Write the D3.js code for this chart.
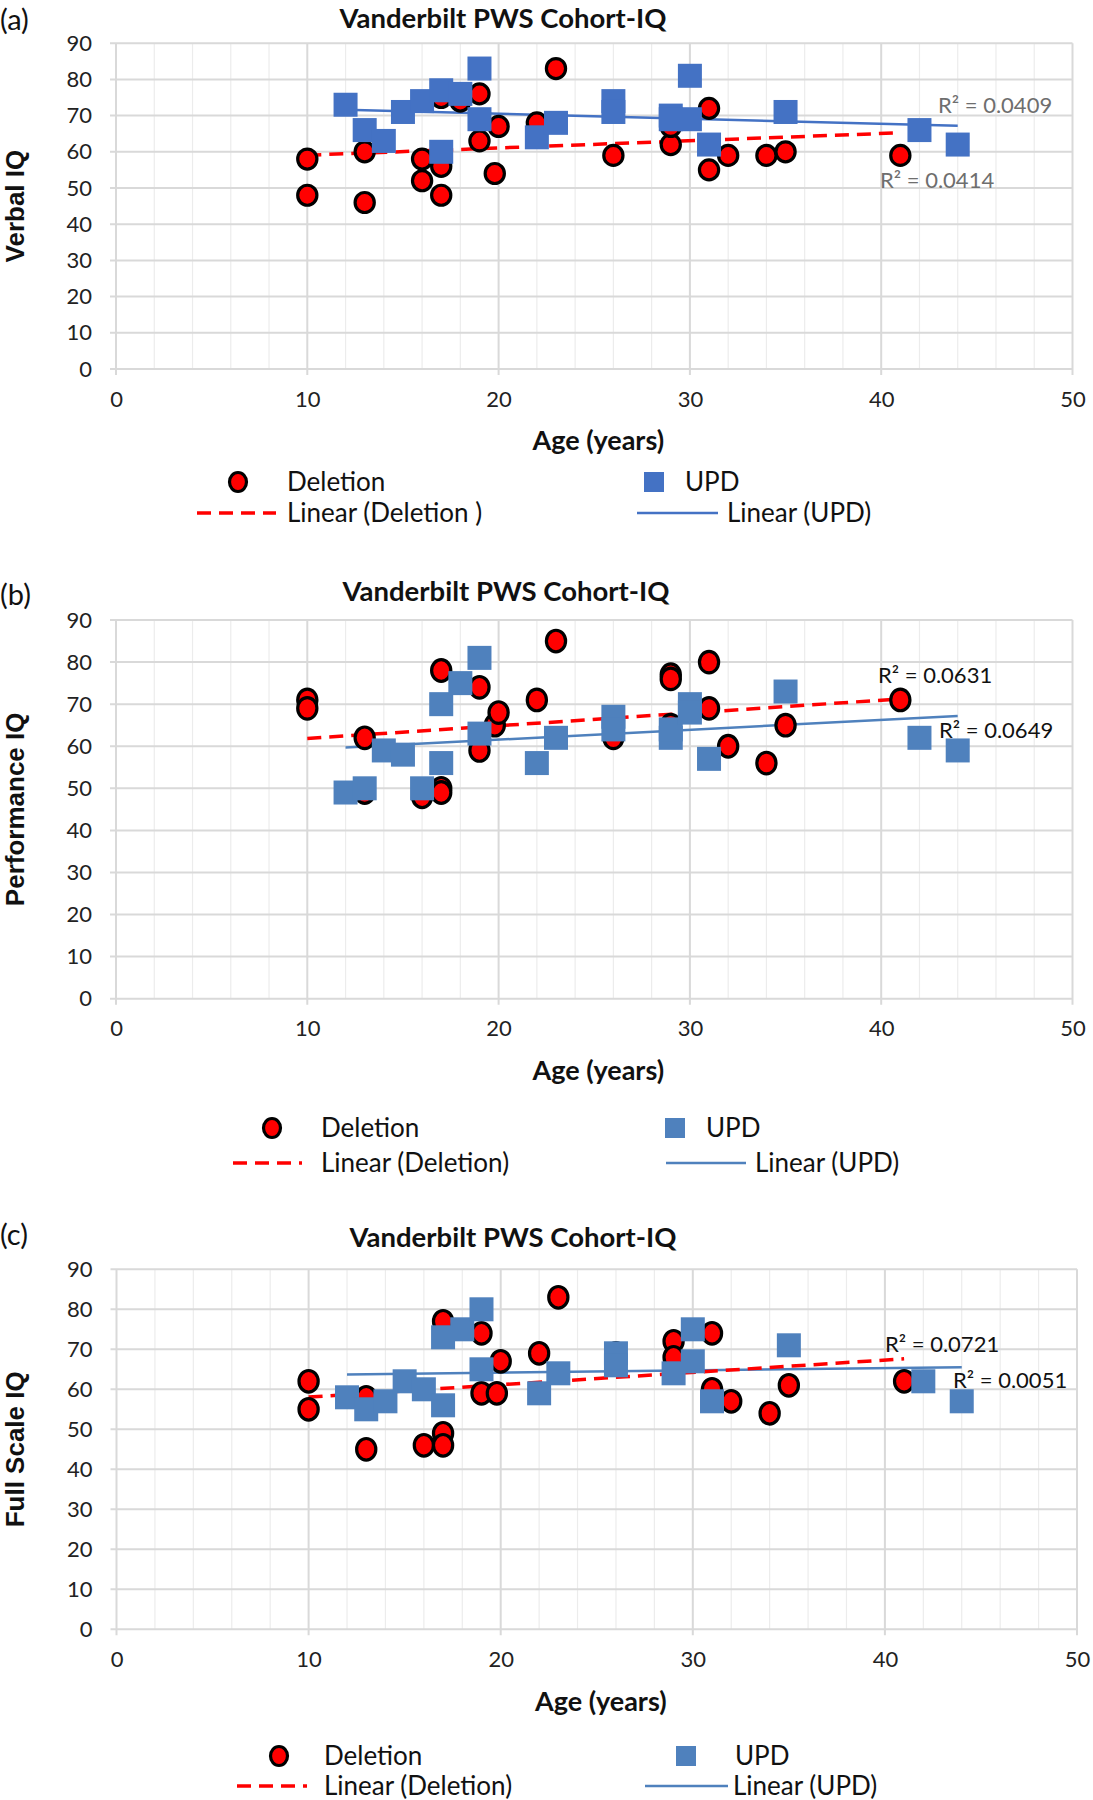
<!DOCTYPE html>
<html>
<head>
<meta charset="utf-8">
<script src="https://cdnjs.cloudflare.com/ajax/libs/d3/7.8.5/d3.min.js"></script>
<style>
  body { margin: 0; background: #fff; }
  svg { display: block; }
</style>
</head>
<body>
<script>
// values (age in years, IQ score)
var verbalDelAge = [10, 10, 13, 13, 16, 16, 17, 17, 17, 18, 19, 19, 19.8, 20, 22, 23, 26, 29, 29, 31, 31, 32, 34, 35, 41];
var verbalDelIQ  = [58, 48, 60, 46, 58, 52, 56, 48, 75, 74, 76, 63, 54, 67, 68, 83, 59, 62, 67, 72, 55, 59, 59, 60, 59];
var verbalUpdAge = [12, 13, 14, 15, 16, 17, 17, 18, 19, 19, 22, 23, 26, 26, 29, 29, 30, 30, 31, 35, 42, 44];
var verbalUpdIQ  = [73, 66, 63, 71, 74, 77, 60, 76, 83, 69, 64, 68, 74, 71, 70, 69, 81, 69, 62, 71, 66, 62];

var perfDelAge = [10, 10, 13, 13, 16, 17, 17, 17, 19, 19, 19.8, 20, 22, 23, 26, 29, 29, 29, 31, 31, 32, 34, 35, 41];
var perfDelIQ  = [71, 69, 62, 49, 48, 78, 50, 49, 74, 59, 65, 68, 71, 85, 62, 77, 76, 65, 80, 69, 60, 56, 65, 71];
var perfUpdAge = [12, 13, 14, 15, 16, 17, 17, 18, 19, 19, 22, 23, 26, 26, 29, 29, 30, 30, 31, 35, 42, 44];
var perfUpdIQ  = [49, 50, 59, 58, 50, 70, 56, 75, 81, 63, 56, 62, 67, 64, 62, 64, 70, 68, 57, 73, 62, 59];

var fullDelAge = [10, 10, 13, 13, 16, 17, 17, 17, 19, 19, 19.8, 20, 22, 23, 26, 29, 29, 31, 31, 32, 34, 35, 41];
var fullDelIQ  = [62, 55, 58, 45, 46, 77, 49, 46, 74, 59, 59, 67, 69, 83, 69, 72, 68, 74, 60, 57, 54, 61, 62];
var fullUpdAge = [12, 13, 14, 15, 16, 17, 17, 18, 19, 19, 22, 23, 26, 26, 29, 30, 30, 31, 35, 42, 44];
var fullUpdIQ  = [58, 55, 57, 62, 60, 73, 56, 75, 80, 65, 59, 64, 69, 66, 64, 75, 67, 57, 71, 62, 57];

var xTicks = [0, 10, 20, 30, 40, 50];
var xMinor = [2, 4, 6, 8, 12, 14, 16, 18, 22, 24, 26, 28, 32, 34, 36, 38, 42, 44, 46, 48];
var yTicks = [0, 10, 20, 30, 40, 50, 60, 70, 80, 90];

var panels = [
  { tag: '(a)', yTitle: 'Verbal IQ',
    delAge: verbalDelAge, delIQ: verbalDelIQ, updAge: verbalUpdAge, updIQ: verbalUpdIQ,
    r2Del: 'R\u00b2 = 0.0414', r2Upd: 'R\u00b2 = 0.0409', delName: 'Linear (Deletion )',
    blue: '#4472C4', r2Color: '#6e6e6e', ry: 10,
    left: 116, right: 1072.5, top: 43.2, bottom: 369,
    tagY: 30, titleX: 503, titleY: 28,
    r2DelPos: [880, 188], r2UpdPos: [938, 112.5],
    leg: { r1: 482, r2: 513, circ: 238, delText: 287, sq: 654, updText: 685, dash: [197, 276], line: [637, 718], lineText: 727 } },
  { tag: '(b)', yTitle: 'Performance IQ',
    delAge: perfDelAge, delIQ: perfDelIQ, updAge: perfUpdAge, updIQ: perfUpdIQ,
    r2Del: 'R\u00b2 = 0.0631', r2Upd: 'R\u00b2 = 0.0649', delName: 'Linear (Deletion)',
    blue: '#4F81BD', r2Color: '#111', ry: 10.8,
    left: 116, right: 1072.5, top: 620, bottom: 998.7,
    tagY: 605, titleX: 506, titleY: 601,
    r2DelPos: [878, 683], r2UpdPos: [939, 738],
    leg: { r1: 1128, r2: 1163, circ: 272, delText: 321, sq: 675, updText: 706, dash: [233, 302], line: [666, 746], lineText: 755 } },
  { tag: '(c)', yTitle: 'Full Scale IQ',
    delAge: fullDelAge, delIQ: fullDelIQ, updAge: fullUpdAge, updIQ: fullUpdIQ,
    r2Del: 'R\u00b2 = 0.0721', r2Upd: 'R\u00b2 = 0.0051', delName: 'Linear (Deletion)',
    blue: '#4F81BD', r2Color: '#111', ry: 10.8,
    left: 116.5, right: 1077, top: 1269.3, bottom: 1629.3,
    tagY: 1245, titleX: 513, titleY: 1247,
    r2DelPos: [885, 1352], r2UpdPos: [953, 1388],
    leg: { r1: 1756, r2: 1786, circ: 279, delText: 324, sq: 686, updText: 735, dash: [237, 307], line: [645, 728], lineText: 733 } }
];

var calibri = 'Lato, "Open Sans", sans-serif';
var arial = '"Liberation Sans", Arial, sans-serif';

var svg = d3.select('body').append('svg')
  .attr('width', 1093)
  .attr('height', 1800);

// least squares line over the data range, like Excel's linear trendline
function trend(xs, ys) {
  var mx = d3.mean(xs), my = d3.mean(ys);
  var sxy = d3.sum(xs, function(x, i) { return (x - mx) * (ys[i] - my); });
  var sxx = d3.sum(xs, function(x) { return (x - mx) * (x - mx); });
  var b = sxy / sxx;
  var x0 = d3.min(xs), x1 = d3.max(xs);
  return [[x0, my + b * (x0 - mx)], [x1, my + b * (x1 - mx)]];
}

panels.forEach(function(p) {
  var x = d3.scaleLinear().domain([0, 50]).range([p.left, p.right]);
  var y = d3.scaleLinear().domain([0, 90]).range([p.bottom, p.top]);
  var g = svg.append('g');

  // grid
  g.selectAll('.minor').data(xMinor).enter().append('line')
    .attr('x1', function(d) { return x(d); }).attr('x2', function(d) { return x(d); })
    .attr('y1', p.top).attr('y2', p.bottom)
    .attr('stroke', '#ececec').attr('stroke-width', 1.2);
  g.selectAll('.hgrid').data(yTicks).enter().append('line')
    .attr('x1', p.left - 6).attr('x2', p.right)
    .attr('y1', function(d) { return y(d); }).attr('y2', function(d) { return y(d); })
    .attr('stroke', '#d9d9d9').attr('stroke-width', 2);
  g.selectAll('.vgrid').data(xTicks).enter().append('line')
    .attr('x1', function(d) { return x(d); }).attr('x2', function(d) { return x(d); })
    .attr('y1', p.top).attr('y2', p.bottom + 6)
    .attr('stroke', '#d9d9d9').attr('stroke-width', 2);

  // axes (labels only, lines come from the grid)
  var ya = g.append('g')
    .attr('transform', 'translate(' + p.left + ',0)')
    .call(d3.axisLeft(y).tickValues(yTicks).tickSize(0).tickPadding(24));
  var xa = g.append('g')
    .attr('transform', 'translate(0,' + p.bottom + ')')
    .call(d3.axisBottom(x).tickValues(xTicks).tickSize(0).tickPadding(22));
  [ya, xa].forEach(function(a) {
    a.select('.domain').remove();
    a.selectAll('text').attr('font-family', calibri).attr('font-size', 22).attr('fill', '#222');
  });

  // trendlines
  var dl = trend(p.delAge, p.delIQ);
  var ul = trend(p.updAge, p.updIQ);
  g.append('line')
    .attr('x1', x(ul[0][0])).attr('y1', y(ul[0][1]))
    .attr('x2', x(ul[1][0])).attr('y2', y(ul[1][1]))
    .attr('stroke', p.blue).attr('stroke-width', 2.5);
  g.append('line')
    .attr('x1', x(dl[0][0])).attr('y1', y(dl[0][1]))
    .attr('x2', x(dl[1][0])).attr('y2', y(dl[1][1]))
    .attr('stroke', '#ff0000').attr('stroke-width', 3.5)
    .attr('stroke-dasharray', '14,8');

  // markers
  g.selectAll('.del').data(p.delAge).enter().append('ellipse')
    .attr('cx', function(d) { return x(d); })
    .attr('cy', function(d, i) { return y(p.delIQ[i]); })
    .attr('rx', 9.6).attr('ry', p.ry)
    .attr('fill', '#ff0000').attr('stroke', '#000').attr('stroke-width', 3.2);
  g.selectAll('.upd').data(p.updAge).enter().append('rect')
    .attr('x', function(d) { return x(d) - 12; })
    .attr('y', function(d, i) { return y(p.updIQ[i]) - 12; })
    .attr('width', 24).attr('height', 24)
    .attr('fill', p.blue);

  // R squared labels
  g.append('text').attr('x', p.r2UpdPos[0]).attr('y', p.r2UpdPos[1])
    .attr('font-family', calibri).attr('font-size', 22).attr('fill', p.r2Color)
    .text(p.r2Upd);
  g.append('text').attr('x', p.r2DelPos[0]).attr('y', p.r2DelPos[1])
    .attr('font-family', calibri).attr('font-size', 22).attr('fill', p.r2Color)
    .text(p.r2Del);

  // titles
  g.append('text').attr('x', 0).attr('y', p.tagY)
    .attr('font-family', calibri).attr('font-size', 29).attr('fill', '#111')
    .text(p.tag);
  g.append('text').attr('x', p.titleX).attr('y', p.titleY)
    .attr('text-anchor', 'middle')
    .attr('font-family', calibri).attr('font-weight', 'bold').attr('font-size', 27.5).attr('fill', '#111')
    .text('Vanderbilt PWS Cohort-IQ');
  g.append('text').attr('x', (p.left + p.right) / 2 + 4).attr('y', p.bottom + 72)
    .attr('text-anchor', 'middle').attr('dy', '0.35em')
    .attr('font-family', calibri).attr('font-weight', 'bold').attr('font-size', 27).attr('fill', '#111')
    .text('Age (years)');
  g.append('text')
    .attr('transform', 'translate(15,' + (p.top + p.bottom) / 2 + ') rotate(-90)')
    .attr('text-anchor', 'middle').attr('dy', '0.35em')
    .attr('font-family', arial).attr('font-weight', 'bold').attr('font-size', 26).attr('fill', '#111')
    .text(p.yTitle);

  // legend
  var L = p.leg;
  g.append('ellipse').attr('cx', L.circ).attr('cy', L.r1).attr('rx', 8.5).attr('ry', 9.5)
    .attr('fill', '#ff0000').attr('stroke', '#000').attr('stroke-width', 3.2);
  g.append('rect').attr('x', L.sq - 10).attr('y', L.r1 - 10).attr('width', 20).attr('height', 20)
    .attr('fill', p.blue);
  g.append('line').attr('x1', L.dash[0]).attr('x2', L.dash[1]).attr('y1', L.r2).attr('y2', L.r2)
    .attr('stroke', '#ff0000').attr('stroke-width', 3.5).attr('stroke-dasharray', '14,8');
  g.append('line').attr('x1', L.line[0]).attr('x2', L.line[1]).attr('y1', L.r2).attr('y2', L.r2)
    .attr('stroke', p.blue).attr('stroke-width', 2.5);
  var items = [[L.delText, L.r1, 'Deletion'], [L.updText, L.r1, 'UPD'],
               [L.delText, L.r2, p.delName], [L.lineText, L.r2, 'Linear (UPD)']];
  g.selectAll('.legtext').data(items).enter().append('text')
    .attr('x', function(d) { return d[0]; })
    .attr('y', function(d) { return d[1]; })
    .attr('dy', '0.35em')
    .attr('font-family', calibri).attr('font-size', 26).attr('fill', '#111')
    .text(function(d) { return d[2]; });
});
</script>
</body>
</html>
